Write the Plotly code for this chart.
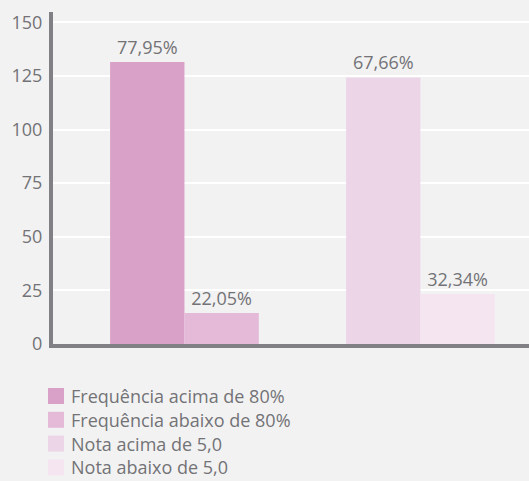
import plotly.graph_objects as go

categories = ["Frequência", "Nota"]
series_names = ["Frequência acima de 80%", "Frequência abaixo de 80%",
                "Nota acima de 5,0", "Nota abaixo de 5,0"]
series_cat = ["Frequência", "Frequência", "Nota", "Nota"]
series_values = [131.5, 14.5, 124.3, 23.3]
series_labels = ["77,95%", "22,05%", "67,66%", "32,34%"]
series_colors = ["#d9a0c8", "#e5b9d8", "#edd5e8", "#f4e5f0"]
offset_groups = ["a", "b", "a", "b"]
y_ticks = [0, 25, 50, 75, 100, 125, 150]

FONT = "Open Sans"
GRAY = "#737377"
FS = 18

W, H = 529, 481
ML, MR, MT, MB = 53, 0, 12, 137
PW, PH = W - ML - MR, H - MT - MB


def px_x(px):
    return (px - ML) / PW


def px_y(py):
    return (H - MB - py) / PH


fig = go.Figure()
for name, cat, val, lab, col, og in zip(series_names, series_cat, series_values,
                                        series_labels, series_colors, offset_groups):
    fig.add_trace(go.Bar(
        x=[cat], y=[val], name=name, marker=dict(color=col, line=dict(width=0)),
        offsetgroup=og, text=[lab], textposition="outside",
        textfont=dict(family=FONT, size=FS, color=GRAY), cliponaxis=False,
        showlegend=False,
    ))

# legend drawn as swatches + text (matches the reference's 16px squares)
shapes = []
annotations = []
for i, (name, col) in enumerate(zip(series_names, series_colors)):
    cy = 396 + i * 23.8
    shapes.append(dict(type="rect", xref="paper", yref="paper",
                       x0=px_x(48), x1=px_x(64), y0=px_y(cy + 8), y1=px_y(cy - 8),
                       fillcolor=col, line=dict(width=0), layer="above"))
    annotations.append(dict(xref="paper", yref="paper", x=px_x(70), y=px_y(cy),
                            text=name, showarrow=False, xanchor="left",
                            yanchor="middle", borderpad=0,
                            font=dict(family=FONT, size=FS, color=GRAY)))

fig.update_layout(
    width=W, height=H,
    margin=dict(l=ML, r=MR, t=MT, b=MB, autoexpand=False),
    paper_bgcolor="#f2f2f2", plot_bgcolor="#f2f2f2",
    barmode="group", bargap=0.37, bargroupgap=0,
    font=dict(family=FONT, size=FS, color=GRAY),
    showlegend=False,
    shapes=shapes, annotations=annotations,
    xaxis=dict(range=[-0.557, 1.46], showticklabels=False, showgrid=False,
               showline=True, linecolor="#808085", linewidth=4, ticks="",
               zeroline=False, type="category", fixedrange=True),
    yaxis=dict(range=[0, 154.8], tickvals=y_ticks, showgrid=True,
               gridcolor="#ffffff", gridwidth=2, showline=True,
               linecolor="#808085", linewidth=4, ticks="", zeroline=False,
               ticklabelstandoff=3, fixedrange=True,
               tickfont=dict(family=FONT, size=FS, color=GRAY)),
)

fig.write_html("out.html", config={"displayModeBar": False},
               post_script="document.body.style.margin='0';document.body.style.padding='0';")
